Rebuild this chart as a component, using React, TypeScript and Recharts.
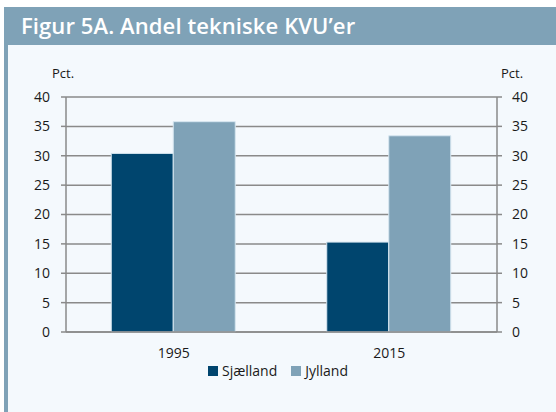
import { Bar, BarChart, CartesianGrid, Legend, Line, XAxis, YAxis } from "recharts";

const AAR = ["1995", "2015"];
const SJAELLAND = [30.4, 15.3];
const JYLLAND = [35.8, 33.4];
const Y_TICKS = [0, 5, 10, 15, 20, 25, 30, 35, 40];

const NAVY = "#00456e";
const STEEL = "#7fa2b7";
const GRID = "#8a8a8a";
const BG = "#f4f9fd";
const FONT = "'Open Sans', sans-serif";

const SERIES = [
  { key: "Sjælland", color: NAVY },
  { key: "Jylland", color: STEEL },
];

const data = AAR.map((a, i) => ({ aar: a, Sjælland: SJAELLAND[i], Jylland: JYLLAND[i] }));

function LegendBox() {
  return (
    <div style={{ display: "flex", justifyContent: "center", gap: 14, fontFamily: FONT, fontSize: 14, color: "#1a1a1a", lineHeight: "18px" }}>
      {SERIES.map((s) => (
        <div key={s.key} style={{ display: "flex", alignItems: "center", gap: 4 }}>
          <span style={{ width: 10, height: 10, background: s.color, display: "inline-block" }} />
          <span>{s.key}</span>
        </div>
      ))}
    </div>
  );
}

export default function App() {
  const tick = { fontSize: 14, fill: "#1a1a1a", fontFamily: FONT };
  return (
    <div style={{ position: "absolute", left: 0, top: 0, width: 556, height: 412, background: "#fff" }}>
      <div style={{ position: "absolute", left: 4, top: 7, width: 552, height: 38, background: STEEL }}>
        <div style={{ position: "absolute", left: 17, top: 3, color: "#fff", fontFamily: FONT, fontWeight: 600, fontSize: 22, letterSpacing: 0.1 }}>
          Figur 5A. Andel tekniske KVU’er
        </div>
      </div>
      <div style={{ position: "absolute", left: 4, top: 45, width: 4, height: 367, background: STEEL }} />
      <div style={{ position: "absolute", left: 8, top: 45, width: 548, height: 367, background: BG }} />
      <div style={{ position: "absolute", left: 52, top: 64, fontFamily: FONT, fontSize: 13, color: "#1a1a1a" }}>Pct.</div>
      <div style={{ position: "absolute", left: 501, top: 64, fontFamily: FONT, fontSize: 13, color: "#1a1a1a" }}>Pct.</div>
      <div style={{ position: "absolute", left: 0, top: 0 }}>
        <BarChart
          width={556}
          height={412}
          data={data}
          margin={{ top: 97, right: 9, left: 16, bottom: 0 }}
          barCategoryGap="21%"
          barGap={0}
        >
          <CartesianGrid stroke={GRID} strokeWidth={1.5} vertical={false} yAxisId="l" />
          <XAxis
            dataKey="aar"
            xAxisId="c"
            tick={tick}
            tickLine={false}
            axisLine={{ stroke: GRID, strokeWidth: 1.5 }}
            tickMargin={10}
            height={40}
          />
          <XAxis
            xAxisId="n"
            type="number"
            domain={[0, 2]}
            ticks={[1]}
            tick={false}
            tickLine={{ stroke: GRID, strokeWidth: 1.5 }}
            tickSize={5}
            axisLine={false}
            height={0}
          />
          <YAxis
            yAxisId="l"
            domain={[0, 40]}
            ticks={Y_TICKS}
            tick={tick}
            tickLine={{ stroke: GRID, strokeWidth: 1.5 }}
            axisLine={{ stroke: GRID, strokeWidth: 1.5 }}
            tickSize={5}
            tickMargin={11}
            width={50}
          />
          <YAxis
            yAxisId="r"
            orientation="right"
            domain={[0, 40]}
            ticks={Y_TICKS}
            tick={tick}
            tickLine={{ stroke: GRID, strokeWidth: 1.5 }}
            axisLine={{ stroke: GRID, strokeWidth: 1.5 }}
            tickSize={5}
            tickMargin={10}
            width={50}
          />
          <Legend
            content={<LegendBox />}
            verticalAlign="bottom"
            height={40}
            wrapperStyle={{ left: 0, width: 556, top: 362 }}
          />
          <Bar dataKey="Sjælland" xAxisId="c" yAxisId="l" fill={NAVY} stroke="#d6e6f0" strokeWidth={1} isAnimationActive={false} />
          <Bar dataKey="Jylland" xAxisId="c" yAxisId="l" fill={STEEL} stroke="#d6e6f0" strokeWidth={1} isAnimationActive={false} />
          <Line dataKey="Jylland" xAxisId="c" yAxisId="r" stroke="none" dot={false} activeDot={false} legendType="none" isAnimationActive={false} />
        </BarChart>
      </div>
    </div>
  );
}
